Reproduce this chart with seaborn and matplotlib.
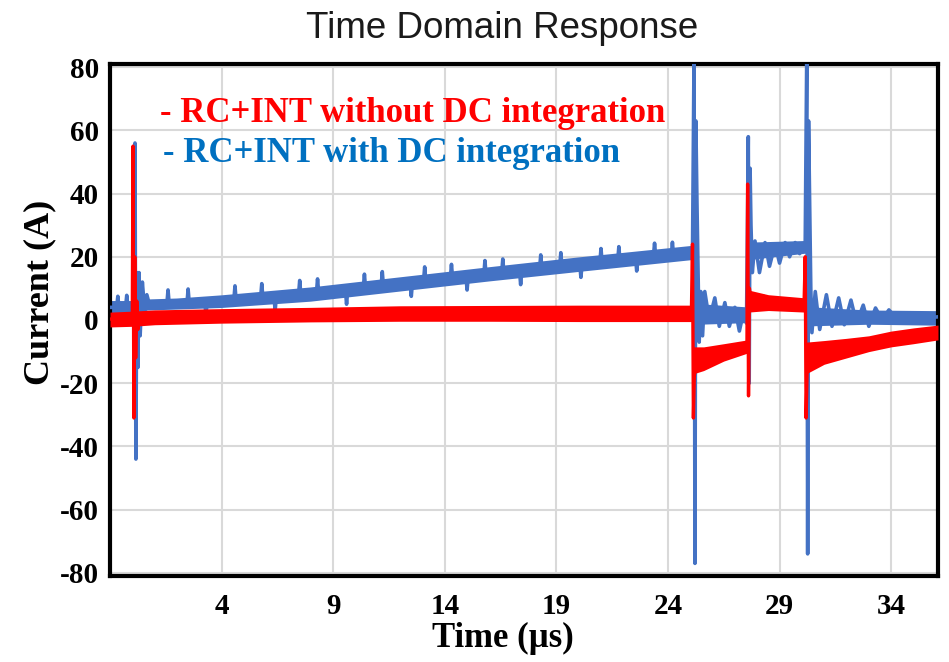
import numpy as np
import pandas as pd
import matplotlib
matplotlib.use("Agg")
import matplotlib.pyplot as plt
import seaborn as sns

# ---------------- data ----------------
# Red: RC+INT without DC integration -- trace (centre line + spikes)
red_t = [-1.0, -0.5, -0.05, 0.0, 0.03, 0.07, 0.11, 0.15, 0.2, 0.25, 0.32, 1.0, 4.0, 8.0,
         12.0, 16.0, 20.0, 25.05, 25.1, 25.14, 25.18, 25.23, 25.3, 25.5, 25.7, 25.9, 26.1,
         26.3, 26.5, 26.7, 26.9, 27.1, 27.3, 27.5, 27.54, 27.57, 27.61, 27.65, 27.7, 27.9,
         28.1, 28.3, 28.5, 28.7, 28.9, 29.1, 29.3, 29.6, 29.9, 30.1, 30.15, 30.19, 30.24,
         30.3, 30.5, 30.7, 30.9, 31.1, 31.3, 31.6, 32.0, 32.5, 33.0, 34.0, 35.0, 36.1]
red_i = [0.3, 0.3, 0.5, 0.5, 55, -31, 20, -12, 6, -3, 1, 1, 1.5, 2.0,
         2.2, 2.3, 2.2, 2.3, 24, -31, -18, -14, -13, -11, -13, -10.5, -12,
         -10, -11, -9.5, -10.5, -9, -9.5, -8.5, -8, 43, -24, 10, 7, 8,
         5.5, 7.5, 5.5, 7, 5, 6.5, 5, 6, 5, 5.5, 20, -31, -15,
         -13, -11, -12.5, -10, -11.5, -9.5, -10, -8.5, -8, -7, -5.5, -4.5, -3.5]
# Red noise band (lower / upper envelope)
red_band_t = [-1.0, 0.0, 1.0, 4.0, 8.0, 12.0, 16.0, 20.0, 25.1, 25.15, 25.6, 26.5, 27.55,
              27.6, 28.5, 30.15, 30.2, 31.0, 32.0, 33.0, 34.0, 35.0, 36.1]
red_lo = [-2.2, -2.0, -1.5, -1.0, -0.6, -0.4, -0.4, -0.5, -0.5, -17, -16, -13, -10.5,
          2.5, 3.0, 2.5, -17, -14, -12, -10, -8.5, -7.5, -6.3]
red_hi = [2.5, 2.8, 3.2, 3.6, 4.0, 4.5, 4.6, 4.7, 4.7, -8.5, -8.5, -7.5, -6.3,
          9.5, 8.0, 7.0, -7.0, -6.5, -5.8, -5.0, -3.5, -2.5, -1.6]

# Blue: RC+INT with DC integration -- trace
blue_t = [-1.0, -0.7, -0.65, -0.6, -0.3, -0.25, -0.2, 0.08, 0.12, 0.16, 0.2, 0.25, 0.3,
          0.35, 0.45, 0.55, 0.65, 0.8, 1.0,
          1.55, 1.6, 1.65, 2.45, 2.5, 2.55, 3.25, 3.3, 3.35, 4.55, 4.6, 4.65, 5.75, 5.8,
          5.85, 6.35, 6.4, 6.45, 7.45, 7.5, 7.55, 8.25, 8.3, 8.35, 9.55, 9.6, 9.65, 10.35,
          10.4, 10.45, 11.15, 11.2, 11.25, 12.45, 12.5, 12.55, 13.05, 13.1, 13.15, 14.25,
          14.3, 14.35, 14.95, 15.0, 15.05, 15.75, 15.8, 15.85, 16.55, 16.6, 16.65, 17.35,
          17.4, 17.45, 18.25, 18.3, 18.35, 19.15, 19.2, 19.25, 20.05, 20.1, 20.15, 20.95,
          21.0, 21.05, 21.75, 21.8, 21.85, 22.55, 22.6, 22.65, 23.35, 23.4, 23.45, 24.15,
          24.2, 24.25, 25.1,
          25.17, 25.21, 25.25, 25.3, 25.35, 25.4, 25.47, 25.55, 25.65, 25.85, 26.1, 26.3,
          26.55, 26.75, 27.0, 27.2, 27.4, 27.52,
          27.6, 27.64, 27.68, 27.72, 27.78, 27.9, 28.1, 28.35, 28.55, 28.8, 29.0, 29.25,
          29.45, 29.7, 29.9, 30.15,
          30.22, 30.26, 30.3, 30.35, 30.4, 30.45, 30.6, 30.8, 31.1, 31.35, 31.65, 31.9,
          32.2, 32.45, 32.75, 33.0, 33.3, 33.6, 33.9, 34.3, 34.8, 35.3, 36.1]
blue_i = [4, 4, 7.5, 4, 4.2, 7.8, 4.2, 4, 56, -44, 15, -15, 15,
          -5, 12, 3, 8, 4, 5,
          5.2, 9.5, 5.2, 5.3, 9.8, 5.3, 5.6, 1.5, 5.6, 6.3, 10.8, 6.3, 7.0, 11.5,
          7.0, 7.3, 3.0, 7.3, 8.1, 12.5, 8.1, 8.6, 13.0, 8.6, 9.4, 5.0, 9.4, 10.0,
          14.5, 10.0, 10.8, 15.3, 10.8, 11.8, 7.5, 11.8, 12.3, 16.8, 12.3, 13.2,
          17.6, 13.2, 13.7, 9.5, 13.7, 14.3, 18.8, 14.3, 14.9, 19.3, 14.9, 15.5,
          11.2, 15.5, 16.2, 20.6, 16.2, 16.9, 21.3, 16.9, 17.5, 13.5, 17.5, 18.2,
          22.6, 18.2, 18.8, 23.2, 18.8, 19.5, 15.5, 19.5, 20.1, 24.3, 20.1, 20.4,
          24.6, 20.4, 21,
          85, -77, 63, 37, 15, -7, 9, -5, 9, 0, 7, -2,
          5.5, -2, 4, -3.5, 3, -1,
          58, -20, 48, 30, 15, 25, 15, 24.5, 17, 24, 18, 24.5,
          20, 24.5, 21, 24,
          85, -74, 63, 36, 10, -4, 9, -3, 8, -2, 7, -1.5,
          6.3, -1, 4.7, -2, 3.8, 0, 3.2, 0, 2, 0.5, 1]
# Blue noise band (NaN separates segments)
blue_band_t = [-1.0, 0.1, 0.7, 2.0, 4.0, 8.0, 12.0, 16.0, 20.0, 25.15, 25.2,
               25.4, 27.55, 27.58,
               27.7, 30.2, 30.22,
               30.4, 33.0, 36.1]
blue_lo = [2.0, 2.0, 3.0, 3.3, 3.8, 5.8, 9.0, 12.2, 15.2, 19.0, np.nan,
           -1.5, -1.0, np.nan,
           19.0, 21.0, np.nan,
           -2.0, -1.5, -1.8]
blue_hi = [6.0, 6.0, 6.5, 6.8, 7.8, 10.3, 13.5, 16.7, 19.8, 23.5, np.nan,
           5.0, 4.0, np.nan,
           24.5, 25.0, np.nan,
           4.0, 3.0, 2.8]

x_ticks = [4, 9, 14, 19, 24, 29, 34]
y_ticks = [-80, -60, -40, -20, 0, 20, 40, 60, 80]

RED = "#FF0000"
BLUE = "#4472C4"
BLUE_TXT = "#0070C0"

# ---------------- plot ----------------
sns.set_theme(style="whitegrid")
plt.rcParams["font.family"] = ["Liberation Serif", "DejaVu Serif"]

fig = plt.figure(figsize=(9.49, 6.62), dpi=100)
ax = fig.add_axes([110 / 949, 1 - 576 / 662, 828 / 949, 512 / 662])

ax.fill_between(blue_band_t, blue_lo, blue_hi, color=BLUE, lw=0, zorder=2)
sns.lineplot(x=blue_t, y=blue_i, ax=ax, color=BLUE, lw=2.6, sort=False,
             estimator=None, zorder=3)
ax.fill_between(red_band_t, red_lo, red_hi, color=RED, lw=0, zorder=4)
sns.lineplot(x=red_t, y=red_i, ax=ax, color=RED, lw=2.4, sort=False,
             estimator=None, zorder=5)

ax.set_xlim(-1, 36.1)
ax.set_ylim(-81, 81)
ax.set_xticks([-1] + x_ticks)
ax.set_xticklabels([""] + [str(v) for v in x_ticks])
ax.set_yticks(y_ticks)
ax.set_yticklabels([str(v) for v in y_ticks])
ax.grid(True, color="#d9d9d9", lw=1.5)
ax.set_facecolor("white")
for s in ax.spines.values():
    s.set_color("black")
    s.set_linewidth(3)
ax.tick_params(axis="both", length=0, labelsize=21, colors="black")
ax.tick_params(axis="x", pad=12)
ax.tick_params(axis="y", pad=8)
for lab in ax.get_xticklabels() + ax.get_yticklabels():
    lab.set_fontweight("bold")

ax.set_xlabel("Time (µs)", fontsize=25, fontweight="bold", color="black")
ax.xaxis.set_label_coords((503 - 110) / 828, (576 - 622) / 512)
ax.set_ylabel("Current (A)", fontsize=26, fontweight="bold", color="black")
ax.yaxis.set_label_coords((56 - 110) / 828, (576 - 292) / 512)

ax.text(0.060, 0.904, "- RC+INT without DC integration", transform=ax.transAxes,
        color=RED, fontsize=25, fontweight="bold", va="center", ha="left", zorder=6)
ax.text(0.064, 0.826, "- RC+INT with DC integration", transform=ax.transAxes,
        color=BLUE_TXT, fontsize=25, fontweight="bold", va="center", ha="left", zorder=6)

fig.text(502 / 949, 1 - 28 / 662, "Time Domain Response", family=["Liberation Sans", "DejaVu Sans"],
         fontsize=26.5, ha="center", va="center", color="#1a1a1a")

fig.savefig("out.png", dpi=100, facecolor="white")
